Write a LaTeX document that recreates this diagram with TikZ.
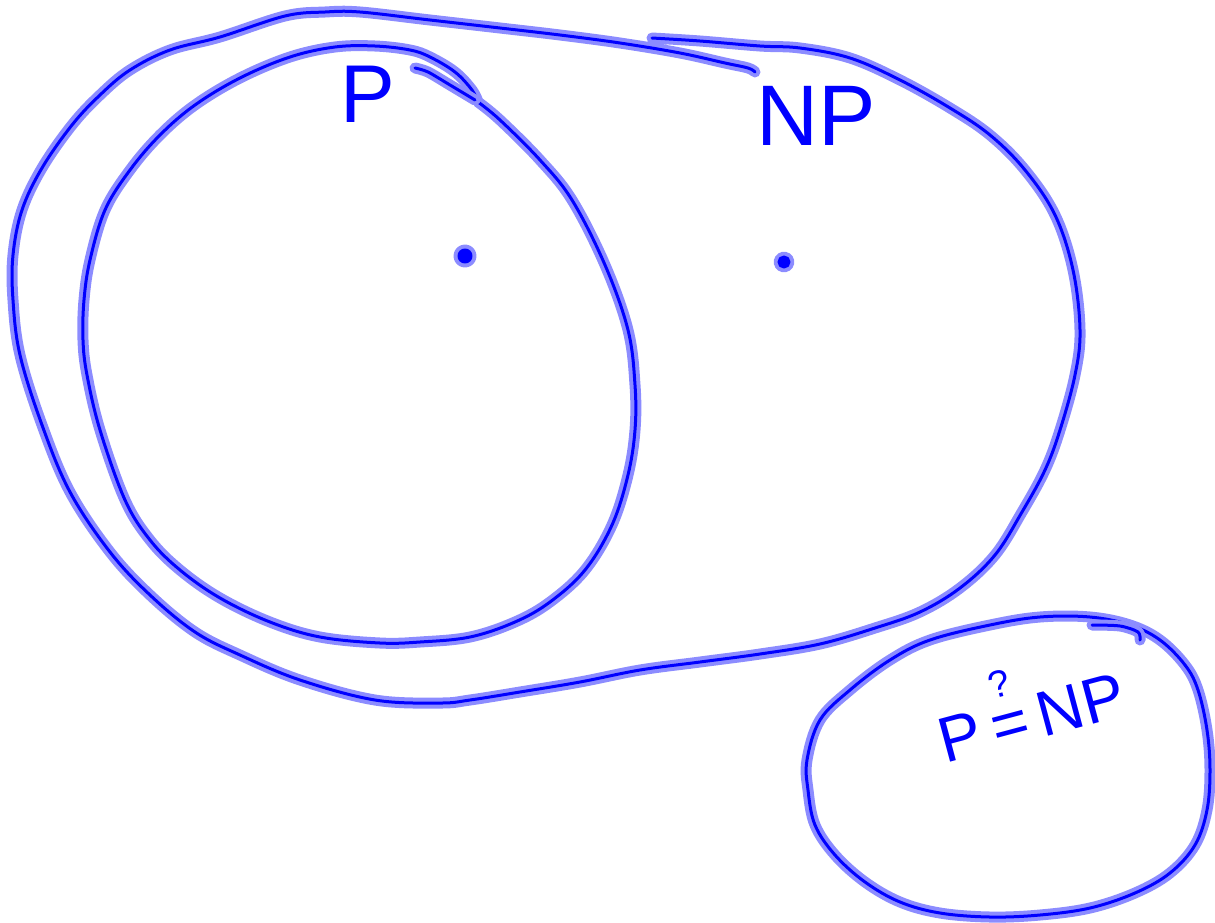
\documentclass[tikz,border=0pt]{standalone}
\usepackage{fontspec}
\setsansfont{Liberation Sans}
\usepackage{tikz}

\begin{document}
\begin{tikzpicture}[x=1pt, y=-1pt,
    pen/.style={draw=blue, line width=3pt, line cap=round, line join=round,
        preaction={draw=blue!45, line width=11pt, line cap=round, line join=round}},
    hand/.style={text=blue, inner sep=0pt, font=\sffamily\fontsize{#1}{#1}\selectfont}]
    \useasboundingbox (0,0) rectangle (1215,922);

    % Outer set NP
    \draw[pen] plot[smooth, tension=0.6] coordinates {
        (652,38) (700,41) (760,46) (800,48) (850,58) (900,80) (950,108) (990,135)
        (1025,170) (1055,215) (1073,270) (1080,330) (1075,375) (1060,430) (1045,470)
        (1022,512) (995,555) (960,588) (920,612) (875,628) (820,644) (760,654)
        (700,662) (640,670) (580,682) (520,692) (470,700) (440,703) (375,700)
        (300,680) (240,655) (195,632) (150,595) (110,552) (70,492) (42,425)
        (20,355) (13,300) (13,255) (22,210) (42,168) (72,125) (100,95) (130,70)
        (170,50) (220,37) (285,16) (325,12) (360,12) (430,20) (500,28) (560,35)
        (620,43) (680,53) (725,63) (748,68) (755,72)};

    % Inner set P
    \draw[pen] plot[smooth, tension=0.6] coordinates {
        (478,102) (500,120) (540,160) (572,200) (605,265) (628,330) (635,385)
        (635,430) (628,475) (612,525) (585,570) (550,602) (515,622) (470,637)
        (420,642) (380,643) (320,637) (270,622) (220,598) (180,570) (150,540)
        (125,500) (100,430) (87,375) (83,340) (84,300) (90,260) (105,210)
        (130,170) (160,135) (195,105) (240,78) (290,57) (335,47) (375,46)
        (410,50) (430,57) (455,72) (472,90) (478,102)};
    \draw[pen] plot[smooth] coordinates {(415,68) (428,72) (450,85) (475,100)};

    % Question bubble
    \draw[pen] plot[smooth cycle, tension=0.6] coordinates {
        (1040,617) (1090,617) (1130,625) (1160,640) (1185,665) (1198,690)
        (1207,730) (1210,770) (1207,810) (1195,845) (1170,873) (1135,893)
        (1090,908) (1040,915) (990,917) (940,913) (900,902) (865,882) (835,855)
        (815,825) (808,790) (807,760) (820,720) (850,690) (890,660) (930,640)
        (990,625)};
    \draw[pen] plot[smooth] coordinates {(1092,625) (1120,626) (1138,632) (1140,640)};

    % Points
    \fill[pen, fill=blue] (465,256) circle (6);
    \fill[pen, fill=blue] (784,262) circle (5);

    % Labels
    \node[hand=82] (labelP) at (368,94) {P};
    \node[hand=86] (labelNP) at (816,116) {NP};
    \node[hand=64, rotate=15] (labelQ) at (1028,702)
        {P\,\ooalign{\hfil\raisebox{0.78em}{\fontsize{38}{38}\selectfont ?}\hfil\cr =\cr}\,NP};
\end{tikzpicture}
\end{document}
